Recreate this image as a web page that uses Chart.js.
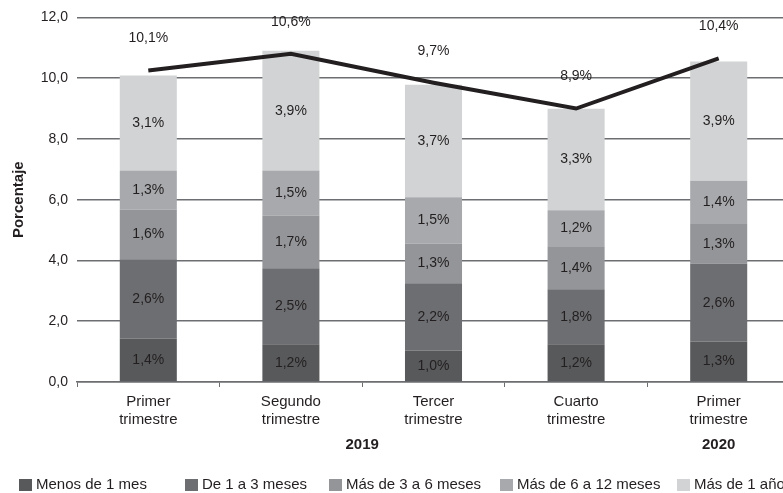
<!DOCTYPE html>
<html lang="es">
<head>
<meta charset="utf-8">
<title>Desempleo por duración</title>
<script src="https://cdn.jsdelivr.net/npm/chart.js@4.4.0/dist/chart.umd.min.js"></script>
<style>
    html, body { margin: 0; padding: 0; background: #fff; overflow: hidden; }
    #wrap { width: 800px; height: 493px; position: relative; }
</style>
</head>
<body>
<div id="wrap"><canvas id="durationChart"></canvas></div>
<script>
// Categories (x axis) and year groups
const categories = [
    ['Primer', 'trimestre'],
    ['Segundo', 'trimestre'],
    ['Tercer', 'trimestre'],
    ['Cuarto', 'trimestre'],
    ['Primer', 'trimestre']
];
const yearLabels = ['2019', '2020'];
const yearFirstIndex = [0, 4];
const yearLastIndex = [3, 4];

// Stacked segments (percent)
const menos1Mes = [1.43, 1.24, 1.04, 1.24, 1.33];
const de1a3Meses = [2.61, 2.50, 2.21, 1.81, 2.56];
const mas3a6Meses = [1.64, 1.74, 1.31, 1.42, 1.31];
const mas6a12Meses = [1.28, 1.48, 1.52, 1.18, 1.42];
const mas1Ano = [3.13, 3.94, 3.70, 3.34, 3.93];

// Total line and its printed labels
const totalLine = [10.25, 10.8, 9.85, 9.0, 10.65];
const totalLabels = ['10,1%', '10,6%', '9,7%', '8,9%', '10,4%'];

const yTicks = [0, 2, 4, 6, 8, 10, 12];

const colors = {
    menos1: '#58595b',
    de1a3: '#6d6e71',
    mas3a6: '#939598',
    mas6a12: '#a7a9ac',
    mas1: '#d1d3d4',
    line: '#231f20',
    text: '#231f20',
    grid: '#6d6e71'
};

const fontFamily = "'Liberation Sans', Arial, Helvetica, sans-serif";
Chart.defaults.font.family = fontFamily;
Chart.defaults.color = colors.text;

function fmt(v) {
    return v.toFixed(1).replace('.', ',');
}

function barSet(label, data, color) {
    return {
        type: 'bar',
        label: label,
        data: data,
        backgroundColor: color,
        borderWidth: 0,
        stack: 'dur',
        barPercentage: 0.4,
        categoryPercentage: 1.0,
        order: 2
    };
}

// legend box left edges, as laid out in the original
const legendX = [19, 185, 329, 500, 677];

// Labels inside segments, over the line, year row and legend
const labelPlugin = {
    id: 'labelPlugin',
    afterDatasetsDraw(chart) {
        const ctx = chart.ctx;
        ctx.save();
        ctx.fillStyle = colors.text;
        ctx.textAlign = 'center';
        ctx.textBaseline = 'middle';
        ctx.font = '14px ' + fontFamily;
        for (let d = 0; d < 5; d++) {
            const meta = chart.getDatasetMeta(d);
            meta.data.forEach((bar, i) => {
                const v = chart.data.datasets[d].data[i];
                const yMid = (bar.y + bar.base) / 2;
                ctx.fillText(fmt(v) + '%', bar.x, yMid);
            });
        }
        const lineMeta = chart.getDatasetMeta(5);
        lineMeta.data.forEach((pt, i) => {
            ctx.fillText(totalLabels[i], pt.x, pt.y - 32);
        });
        // year labels
        const xs = chart.scales.x;
        ctx.font = 'bold 15px ' + fontFamily;
        yearLabels.forEach((t, k) => {
            const x = (xs.getPixelForValue(yearFirstIndex[k]) + xs.getPixelForValue(yearLastIndex[k])) / 2;
            ctx.fillText(t, x, xs.bottom - 15);
        });
        // legend
        ctx.font = '15px ' + fontFamily;
        ctx.textAlign = 'left';
        const ly = xs.bottom + 25;
        for (let d = 0; d < 5; d++) {
            const ds = chart.data.datasets[d];
            ctx.fillStyle = ds.backgroundColor;
            ctx.fillRect(legendX[d], ly - 6, 13, 12);
            ctx.fillStyle = colors.text;
            ctx.fillText(ds.label, legendX[d] + 17, ly);
        }
        ctx.restore();
    }
};

const chart = new Chart(document.getElementById('durationChart'), {
    data: {
        labels: categories,
        datasets: [
            barSet('Menos de 1 mes', menos1Mes, colors.menos1),
            barSet('De 1 a 3 meses', de1a3Meses, colors.de1a3),
            barSet('Más de 3 a 6 meses', mas3a6Meses, colors.mas3a6),
            barSet('Más de 6 a 12 meses', mas6a12Meses, colors.mas6a12),
            barSet('Más de 1 año', mas1Ano, colors.mas1),
            {
                type: 'line',
                label: 'Total',
                data: totalLine,
                borderColor: colors.line,
                borderWidth: 4,
                pointRadius: 0,
                tension: 0,
                fill: false,
                stack: 'total',
                order: 1
            }
        ]
    },
    options: {
        responsive: true,
        maintainAspectRatio: false,
        animation: false,
        layout: { padding: { top: 9, right: 10, left: 0, bottom: 33 } },
        plugins: {
            legend: { display: false },
            tooltip: { enabled: false }
        },
        scales: {
            x: {
                stacked: true,
                grid: {
                    drawOnChartArea: false,
                    drawTicks: true,
                    tickLength: 5,
                    color: colors.grid
                },
                border: { display: true, color: colors.grid, width: 1.5 },
                ticks: {
                    font: { size: 15 },
                    padding: 6,
                    maxRotation: 0
                },
                afterFit(scale) { scale.height = 78; }
            },
            y: {
                stacked: true,
                min: 0,
                max: 12,
                afterBuildTicks(scale) {
                    scale.ticks = yTicks.map(v => ({ value: v }));
                },
                grid: {
                    color: colors.grid,
                    lineWidth: 1.5,
                    drawTicks: false
                },
                border: { display: false },
                ticks: {
                    font: { size: 14 },
                    padding: 9,
                    callback: v => fmt(v)
                },
                title: {
                    display: true,
                    text: 'Porcentaje',
                    font: { size: 15, weight: 'bold' },
                    padding: { top: 10, bottom: 4 }
                },
                afterFit(scale) { scale.width = 77; }
            }
        }
    },
    plugins: [labelPlugin]
});
</script>
</body>
</html>
